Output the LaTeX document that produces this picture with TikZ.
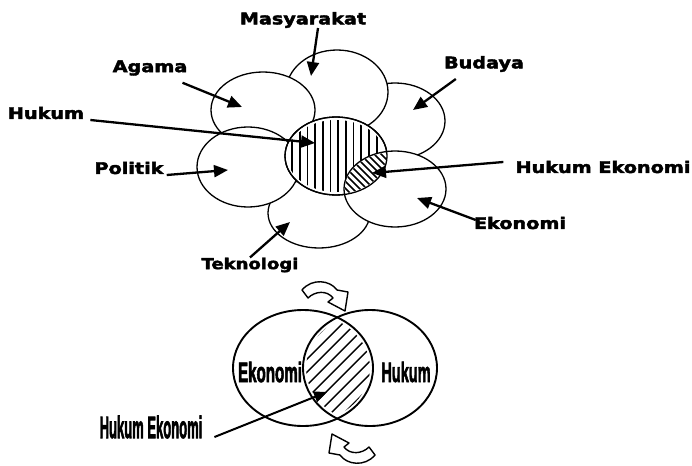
\documentclass[tikz,border=0pt]{standalone}
\usepackage{fontspec}
\newfontfamily\flowerfont{DejaVu Sans}[BoldFeatures={FakeBold=2.5}]
\newfontfamily\vennfont{Liberation Sans}[BoldFeatures={FakeBold=3}]
\usetikzlibrary{arrows.meta}

\tikzset{
  blob/.style={draw,line width=1.3pt,fill=white},
  ring/.style={draw,line width=1.9pt},
  hatch/.style={line width=1.7pt},
  pointer/.style={line width=2.3pt,-{Triangle[length=14pt,width=12pt]}},
  biglabel/.style={inner sep=0pt,font=\flowerfont\bfseries\fontsize{16}{16}\selectfont,xscale=1.2},
  slimlabel/.style={inner sep=0pt,font=\vennfont\bfseries\fontsize{#1}{#1}\selectfont},
  turnarrow/.pic={\draw[line width=1.4pt,line join=round] (-23,-6) .. controls (-13,-18) and (5,-16) .. (12,-6) -- (23,-4) -- (20,15) -- (3,6) -- (8,2) .. controls (2,-6) and (-10,-5) .. (-17,2) -- cycle;}
}

\begin{document}
\begin{tikzpicture}[x=1pt,y=-1pt]
\useasboundingbox (0,0) rectangle (692,465);
% flower of ellipses
\coordinate (tek) at (319,213);
\coordinate (bud) at (395,121);
\coordinate (mas) at (337,92);
\coordinate (aga) at (263,110);
\coordinate (pol) at (248,167);
\coordinate (huk) at (336,156);
\coordinate (eko) at (395,189);
\draw[blob] (tek) ellipse [x radius=51pt,y radius=35pt];
\draw[blob] (bud) ellipse [x radius=50pt,y radius=38pt];
\draw[blob] (mas) ellipse [x radius=51pt,y radius=42pt];
\draw[blob] (aga) ellipse [x radius=52pt,y radius=38pt];
\draw[blob] (pol) ellipse [x radius=51pt,y radius=40pt];
\draw[blob] (huk) ellipse [x radius=51pt,y radius=39pt];
\begin{scope}
  \clip (huk) ellipse [x radius=49pt,y radius=36pt];
  \foreach \x in {292,299.7,...,384} \draw[hatch] (\x,110) -- (\x,200);
\end{scope}
\draw[blob] (eko) ellipse [x radius=51pt,y radius=38pt];
\begin{scope}
  \clip (huk) ellipse [x radius=50pt,y radius=38pt];
  \clip (eko) ellipse [x radius=50pt,y radius=37pt];
  \foreach \c in {143,150,...,241} \draw[hatch] (\c+140,140) -- (\c+210,210);
\end{scope}
\draw[line width=1.3pt] (huk) ellipse [x radius=51pt,y radius=39pt];

\node[biglabel] (maslbl) at (303,20) {Masyarakat};
\node[biglabel] (agalbl) at (150,68) {Agama};
\node[biglabel] (huklbl) at (46,113) {Hukum};
\node[biglabel] (pollbl) at (129,168) {Politik};
\node[biglabel] (budlbl) at (484,64) {Budaya};
\node[biglabel] (helbl) at (603,167) {Hukum Ekonomi};
\node[biglabel] (ekolbl) at (520,223) {Ekonomi};
\node[biglabel,font=\flowerfont\bfseries\fontsize{15}{15}\selectfont] (teklbl) at (250,265) {Teknologi};

\coordinate (masTip) at (311,76);
\coordinate (agaTip) at (242,107);
\coordinate (hukTip) at (315,143);
\coordinate (polTip) at (228,170);
\coordinate (budTip) at (413,110);
\coordinate (heTip) at (372,173);
\coordinate (ekoTip) at (417,198);
\coordinate (tekTip) at (290,222);
\draw[pointer] ([xshift=15pt]maslbl.south) -- (masTip);
\draw[pointer] ([xshift=-5pt,yshift=-7pt]agalbl.south east) -- (agaTip);
\draw[pointer] ([xshift=6pt,yshift=-7pt]huklbl.east) -- (hukTip);
\draw[pointer] ([xshift=3pt,yshift=-7pt]pollbl.east) -- (polTip);
\draw[pointer] ([xshift=12pt,yshift=-7pt]budlbl.south west) -- (budTip);
\draw[pointer] ([xshift=-12pt,yshift=5pt]helbl.west) -- (heTip);
\draw[pointer] ([xshift=2pt,yshift=3pt]ekolbl.west) -- (ekoTip);
\draw[pointer] (teklbl.north) -- (tekTip);

% two circles below
\coordinate (vEko) at (303,368);
\coordinate (vHuk) at (370,368);
\begin{scope}
  \clip (vEko) ellipse [x radius=67pt,y radius=55pt];
  \clip (vHuk) ellipse [x radius=64pt,y radius=55pt];
  \foreach \c in {640,653,...,780} \draw[hatch,line width=1.4pt] (\c-300,300) -- (\c-440,440);
\end{scope}
\draw[ring] (vEko) ellipse [x radius=70pt,y radius=58pt];
\draw[ring] (vHuk) ellipse [x radius=67pt,y radius=58pt];
\node[slimlabel=28,xscale=0.54] (vekolbl) at (270,372) {Ekonomi};
\node[slimlabel=28,xscale=0.52] (vhuklbl) at (406,372) {Hukum};
\node[slimlabel=31,xscale=0.42] (vhelbl) at (151,427) {Hukum Ekonomi};
\coordinate (vheTip) at (327,392);
\draw[pointer,line width=2pt,-{Triangle[length=13pt,width=11pt]}] ([xshift=12pt,yshift=-10pt]vhelbl.east) -- (vheTip);

\pic at (325,296) {turnarrow};
\pic[rotate=180] at (352,449) {turnarrow};
\end{tikzpicture}
\end{document}
